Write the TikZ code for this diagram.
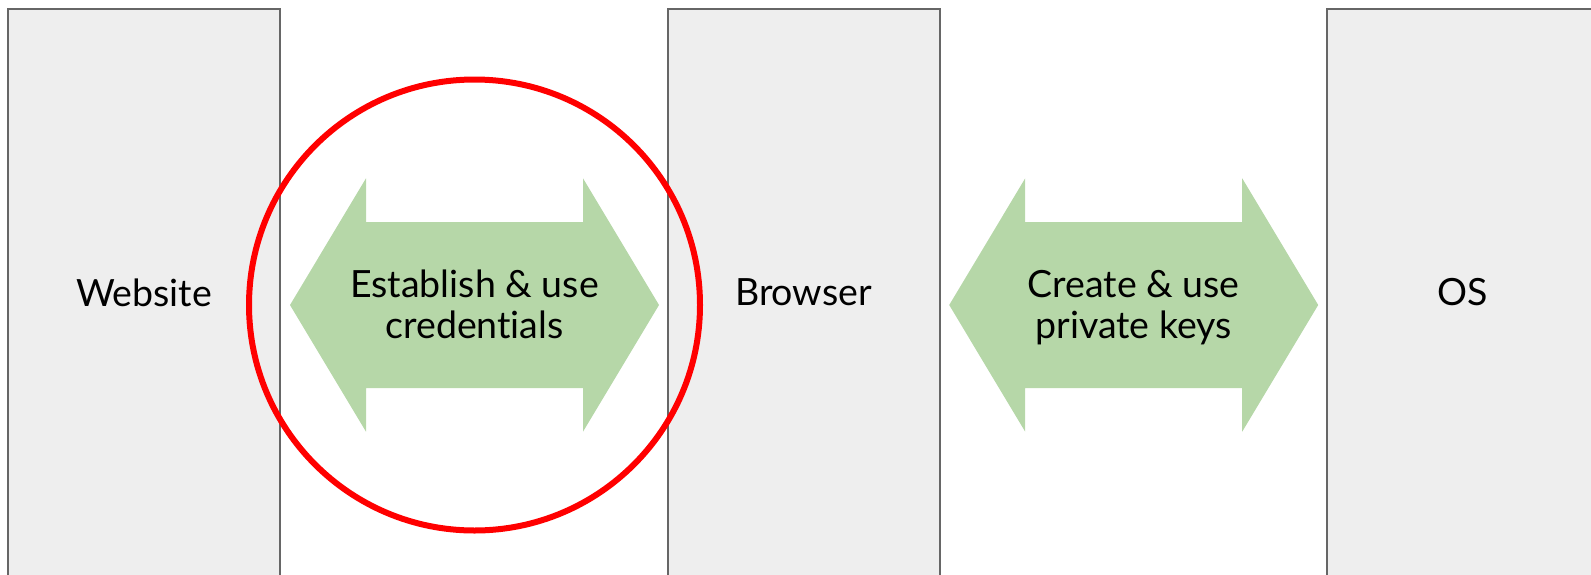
\documentclass[tikz,border=0pt]{standalone}
\usepackage{fontspec}
\setmainfont[Ligatures=NoCommon]{Lato}
\definecolor{boxfill}{HTML}{EEEEEE}
\definecolor{boxline}{HTML}{666666}
\definecolor{arrowfill}{HTML}{B6D7A8}
\definecolor{ringred}{HTML}{FF0000}
\tikzset{
  x=1pt, y=-1pt,
  layer/.style={draw=boxline, line width=2pt, fill=boxfill,
    minimum width=272pt, minimum height=567pt, inner sep=0pt,
    font=\fontsize{37.5}{41}\selectfont},
  flowlabel/.style={align=center, inner sep=0pt,
    font=\fontsize{37.5}{41}\selectfont},
  dblarrow/.pic={
    \fill[arrowfill] (-184.5,0) -- (-108.5,-126.7) -- (-108.5,-83)
      -- (108.5,-83) -- (108.5,-126.7) -- (184.5,0) -- (108.5,126.7)
      -- (108.5,83) -- (-108.5,83) -- (-108.5,126.7) -- cycle;
  },
  ring/.style={circle, draw=ringred, line width=6pt, minimum size=451pt,
    inner sep=0pt}
}
\begin{document}
\begin{tikzpicture}
  \clip (0,0) rectangle (1591,574);

  % the three layers
  \node[layer] (website) at (144,292.5) {Website};
  \node[layer] (browser) at (803.5,292.5) {Browser};
  \node[layer] (os)      at (1463,292.5) {OS};

  % two-way exchanges between the layers
  \pic at (474.5,305) {dblarrow};
  \node[flowlabel] (cred) at (474.5,309.5) {\strut Establish \& use\\credentials\strut};
  \pic at (1133.7,305) {dblarrow};
  \node[flowlabel] (keys) at (1133.7,309.5) {\strut Create \& use\\private keys\strut};

  % highlight around the website--browser exchange
  \node[ring] (focus) at (474.5,305) {};
\end{tikzpicture}
\end{document}
